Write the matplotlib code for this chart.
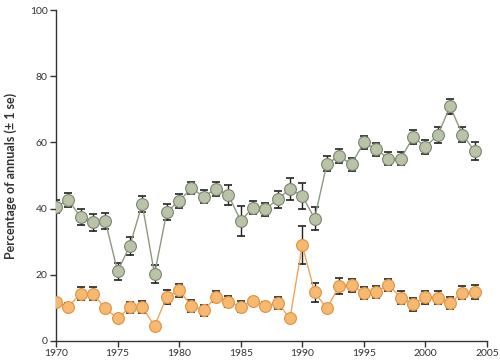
import numpy as np
import matplotlib
matplotlib.use("Agg")
import matplotlib.pyplot as plt

plt.rcParams['font.family'] = ['Lato', 'DejaVu Sans']

years = list(range(1970, 2005))

# upper series (green)
green = [40.6, 42.6, 37.4, 35.8, 36.3, 21.0, 28.8, 41.4, 20.2, 39.0,
         42.3, 46.2, 43.6, 46.0, 44.1, 36.3, 40.3, 39.8, 42.8, 46.0,
         43.8, 37.0, 53.6, 55.8, 53.4, 60.0, 57.9, 55.1, 55.1, 61.6,
         58.7, 62.2, 70.9, 62.4, 57.4]
green_se = [2.0, 2.0, 2.5, 2.5, 2.5, 2.5, 2.7, 2.4, 2.8, 2.4,
            2.0, 1.9, 2.0, 2.1, 2.9, 4.5, 1.9, 1.9, 2.5, 3.3,
            3.9, 3.4, 2.2, 2.1, 2.0, 1.9, 1.9, 1.9, 1.9, 2.2,
            2.1, 2.4, 2.2, 2.2, 2.7]

# lower series (orange)
orange = [11.8, 10.3, 14.3, 14.3, 9.8, 6.8, 10.1, 10.3, 4.5, 13.3,
          15.3, 10.6, 9.2, 13.4, 11.9, 10.3, 12.1, 10.6, 11.5, 6.8,
          29.0, 14.7, 9.8, 16.6, 16.8, 14.5, 14.8, 16.9, 13.1, 11.1,
          13.2, 13.1, 11.5, 14.6, 14.8]
orange_se = [1.0, 1.0, 1.9, 1.9, 0.8, 0.8, 1.8, 1.8, 0.8, 2.1,
             1.9, 1.8, 1.7, 1.8, 1.8, 1.7, 1.0, 1.0, 1.8, 0.8,
             5.7, 2.8, 1.0, 2.5, 2.0, 1.8, 1.8, 1.8, 1.9, 2.0,
             2.0, 2.0, 1.8, 2.0, 2.0]

fig = plt.figure(figsize=(5, 3.63), dpi=100)
ax = fig.add_axes([0.112, 0.061, 0.862, 0.911])

series = [
    (green, green_se, '#8e9880', '#b9c4a6', '#7a8470'),
    (orange, orange_se, '#f0a45a', '#f7b870', '#e09240'),
]
for vals, se, lc, fc, ec in series:
    ax.errorbar(years, vals, yerr=se, fmt='none', ecolor='#222222',
                elinewidth=1.0, capsize=3, capthick=1.2, zorder=2)
    ax.plot(years, vals, '-', color=lc, lw=1.0, zorder=2.5)
    ax.plot(years, vals, 'o', ms=8.5, mfc=fc, mec=ec, mew=0.8, zorder=3)

ax.set_xlim(1970, 2005)
ax.set_ylim(0, 100)
ax.set_xticks(range(1970, 2006, 5))
ax.set_yticks(range(0, 101, 20))
ax.spines['top'].set_visible(False)
ax.spines['right'].set_visible(False)
for s in ('left', 'bottom'):
    ax.spines[s].set_color('#333333')
    ax.spines[s].set_linewidth(1.0)
ax.tick_params(direction='out', length=4, width=1, colors='#333333', labelsize=7.5, pad=2)
ax.set_ylabel('Percentage of annuals (\u00b1 1 se)', fontsize=9, fontweight='bold',
              color='#333333', labelpad=9)

fig.savefig('out.png', dpi=100)
